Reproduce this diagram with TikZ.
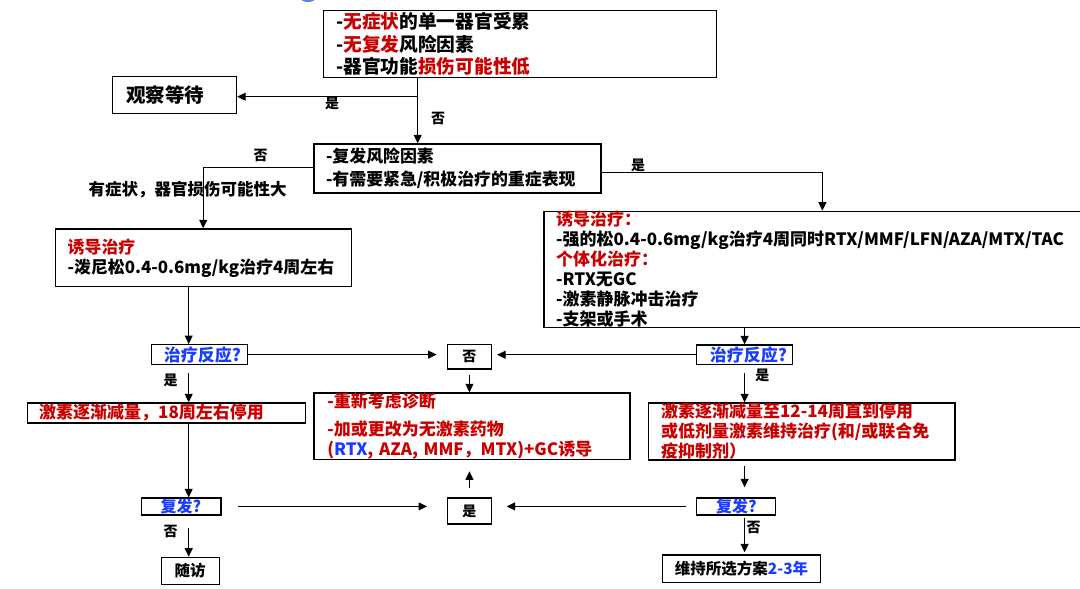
\documentclass[tikz,border=0pt]{standalone}
\usepackage{fontspec}
\setmainfont{Noto Sans CJK SC}
\usetikzlibrary{arrows.meta}
\definecolor{myred}{RGB}{200,0,0}
\definecolor{myblue}{RGB}{25,60,255}
\newcommand\RD[1]{\textcolor{myred}{#1}}
\newcommand\BL[1]{\textcolor{myblue}{#1}}
\newcommand\fsz[2]{\fontsize{#1}{#2}\selectfont\bfseries}
\begin{document}
\begin{tikzpicture}[x=1pt,y=-1pt,
  box/.style={draw=black, line width=1.2pt, anchor=north west, inner ysep=0pt, align=left},
  cbox/.style={draw=black, line width=1.2pt, anchor=north west, inner sep=0pt, align=center},
  arr/.style={line width=1pt, -{Triangle[length=8.5pt,width=8pt]}},
  ln/.style={line width=1pt},
  lab/.style={font=\fsz{14}{16}, inner sep=0pt},
]
\useasboundingbox (0,0) rectangle (1080,589);
\begin{scope}
\clip (0,0) rectangle (1080,589);
\fill[myblue!70] (308,-1.5) ellipse [x radius=7pt, y radius=3.5pt];

% boxes
\node[box, inner xsep=12.7pt, text width=367.6pt, minimum height=67pt, font=\fsz{18.7}{22.5}] (A) at (323,10)
  {-\RD{无症状}的单一器官受累\\-\RD{无复发}风险因素\\-器官功能\RD{损伤可能性低}};
\node[box, inner xsep=13.7pt, text width=96.6pt, minimum height=36.7pt, font=\fsz{19.5}{22}] (B) at (112,76) {观察等待};
\node[box, inner xsep=12pt, text width=263pt, minimum height=49pt, font=\fsz{16.9}{23.3}] (C) at (313.4,143.3)
  {-复发风险因素\\-有需要紧急/积极治疗的重症表现};
\node[box, inner xsep=12pt, text width=272pt, minimum height=57.7pt, font=\fsz{16.9}{20}] (D) at (55.1,228.3)
  {\RD{诱导治疗}\\-泼尼松0.4-0.6mg/kg治疗4周左右};
\node[box, inner xsep=12.1pt, text width=530pt, minimum height=114.3pt, font=\fsz{17}{19.9}] (E) at (543.4,210.7)
  {\RD{诱导治疗：}\\-强的松0.4-0.6mg/kg治疗4周同时RTX/MMF/LFN/AZA/MTX/TAC\\\RD{个体化治疗：}\\-RTX无GC\\-激素静脉冲击治疗\\-支架或手术};
\node[box, inner xsep=12.5pt, text width=71pt, minimum height=20pt, font=\fsz{17}{20}] (F) at (150.8,344) {\BL{治疗反应?}};
\node[cbox, minimum width=43.7pt, minimum height=24.3pt, font=\fsz{14}{16}] (G) at (447,344) {否};
\node[box, inner xsep=13.3pt, text width=69.4pt, minimum height=19.7pt, font=\fsz{17}{20}] (H) at (696,344.3) {\BL{治疗反应?}};
\node[box, inner xsep=13.4pt, text width=289.2pt, minimum height=66.7pt, font=\fsz{17}{20}] (I) at (313.3,392.3)
  {\RD{-重新考虑诊断}\\[8.3pt]\RD{-加或更改为无激素药物}\\\RD{(}\BL{RTX}\RD{, AZA, MMF，MTX)+GC诱导}};
\node[box, inner xsep=12.1pt, text width=254.1pt, minimum height=20pt, font=\fsz{17}{20}] (J) at (26.5,402.3)
  {\RD{激素逐渐减量，18周左右停用}};
\node[box, inner xsep=18.8pt, text width=41.6pt, minimum height=17pt, font=\fsz{16}{18}] (K) at (141.2,497.3) {\BL{复发?}};
\node[cbox, minimum width=43.7pt, minimum height=26pt, font=\fsz{14}{16}] (L) at (447,497.3) {是};
\node[box, inner xsep=12.7pt, text width=281.1pt, minimum height=57pt, font=\fsz{17}{20}] (M) at (647.8,402.3)
  {\RD{激素逐渐减量至12-14周直到停用}\\\RD{或低剂量激素维持治疗(和/或联合免}\\\RD{疫抑制剂）}};
\node[box, inner xsep=19.6pt, text width=39.3pt, minimum height=17pt, font=\fsz{16}{18}] (N) at (696,497.3) {\BL{复发?}};
\node[box, inner xsep=12.1pt, text width=133.6pt, minimum height=27.4pt, font=\fsz{15.5}{18}] (O) at (662.2,554.3)
  {维持所选方案\BL{2-3年}};
\node[cbox, minimum width=58.2pt, minimum height=27.3pt, font=\fsz{15.5}{18}] (P) at (160.5,556.7) {随访};

% labels
\node[lab] (l1) at (332,103.3) {是};
\node[lab] (l2) at (438,118.3) {否};
\node[lab] (l3) at (260.7,155) {否};
\node[lab] (l4) at (638,165.7) {是};
\node[font=\fsz{16.5}{18}, inner sep=0pt] (l5) at (187.6,190) {有症状，器官损伤可能性大};
\node[lab] (l6) at (170.5,380) {是};
\node[lab] (l7) at (762.3,375.7) {是};
\node[lab] (l8) at (170.5,531.7) {否};
\node[lab] (l9) at (753.5,527.7) {否};

% junctions
\coordinate (j1) at (417.7,96.7);
\coordinate (j2) at (203.2,167.7);
\coordinate (j3) at (822.4,172.3);
\coordinate (xl) at (188.7,0);

% connectors
\draw[ln] (A.south -| j1) -- (j1);
\draw[arr] (j1) -- (j1 -| B.east);
\draw[arr] (j1) -- (j1 |- C.north);
\draw[arr] (C.west |- j2) -- (j2) -- (j2 |- D.north);
\draw[arr] (C.east |- j3) -- (j3) -- (j3 |- E.north);
\draw[arr] (D.south -| xl) -- (F.north -| xl);
\draw[arr, shorten >=10.4pt] (F.east) -- (F.east -| G.west);
\draw[arr, shorten >=5.2pt] (H.west) -- (H.west -| G.east);
\draw[arr, shorten <=5pt] (G.south) -- (G.south |- I.north);
\draw[arr, shorten <=7.7pt] (F.south -| xl) -- (J.north -| xl);
\draw[arr] (J.south -| xl) -- (K.north -| xl);
\draw[arr, shorten <=12.4pt] (K.south -| xl) -- (P.north -| xl);
\draw[arr, shorten <=16.6pt, shorten >=20pt] (K.east) -- (K.east -| L.west);
\draw[arr, shorten <=9.7pt, shorten >=14.8pt] (N.west) -- (N.west -| L.east);
\draw[arr, shorten <=9pt, shorten >=11pt] (L.north) -- (L.north |- I.south);
\draw[arr] (E.south -| H.north) -- (H.north);
\draw[arr, shorten <=7.7pt] (H.south) -- (H.south |- M.north);
\draw[arr, shorten <=5.7pt, shorten >=10pt] (M.south -| H.south) -- (N.north -| H.south);
\draw[arr, shorten <=2.4pt, shorten >=2pt] (N.south -| H.south) -- (O.north -| H.south);
\end{scope}
\end{tikzpicture}
\end{document}
